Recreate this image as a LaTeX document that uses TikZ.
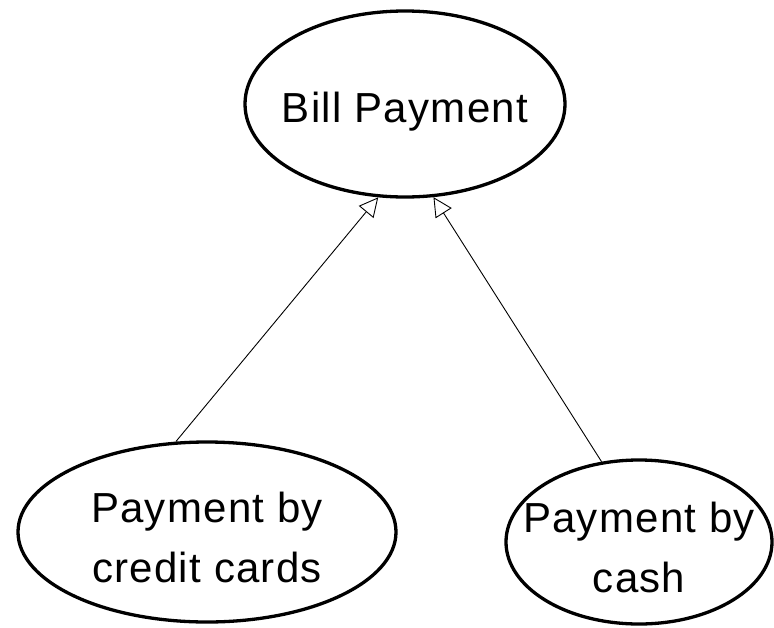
\documentclass[tikz,border=0pt]{standalone}
\usepackage{fontspec}
\setmainfont{Liberation Sans}[LetterSpace=3]
\usetikzlibrary{shapes.geometric,arrows.meta}
\newcommand{\zw}[1]{\makebox[0pt]{#1}}
\tikzset{
  usecase/.style={draw=black, line width=3.3pt, ellipse, inner sep=0pt, align=center,
    font=\fontsize{42}{60}\selectfont},
  gen/.style={draw=black, line width=0.9pt, -{Triangle[open, length=19pt, width=19pt, line width=0.9pt]}}
}
\begin{document}
\begin{tikzpicture}[x=1pt,y=-1pt]
\useasboundingbox (0,0) rectangle (774,627);
\node[usecase, minimum width=320pt, minimum height=186pt, text height=45pt, text depth=9pt] (bill) at (405,104) {\zw{Bill Payment}};
\node[usecase, minimum width=378pt, minimum height=180pt, text height=100pt, text depth=0pt] (credit) at (207,532) {\zw{Payment by}\\\zw{credit cards}};
\node[usecase, minimum width=266pt, minimum height=164pt, text height=100pt, text depth=0pt] (cash) at (639,542) {\zw{Payment by}\\\zw{cash}};
\draw[gen] (credit.109.4) -- (bill.-106);
\draw[gen] (cash.115) -- (bill.-73.4);
\end{tikzpicture}
\end{document}
